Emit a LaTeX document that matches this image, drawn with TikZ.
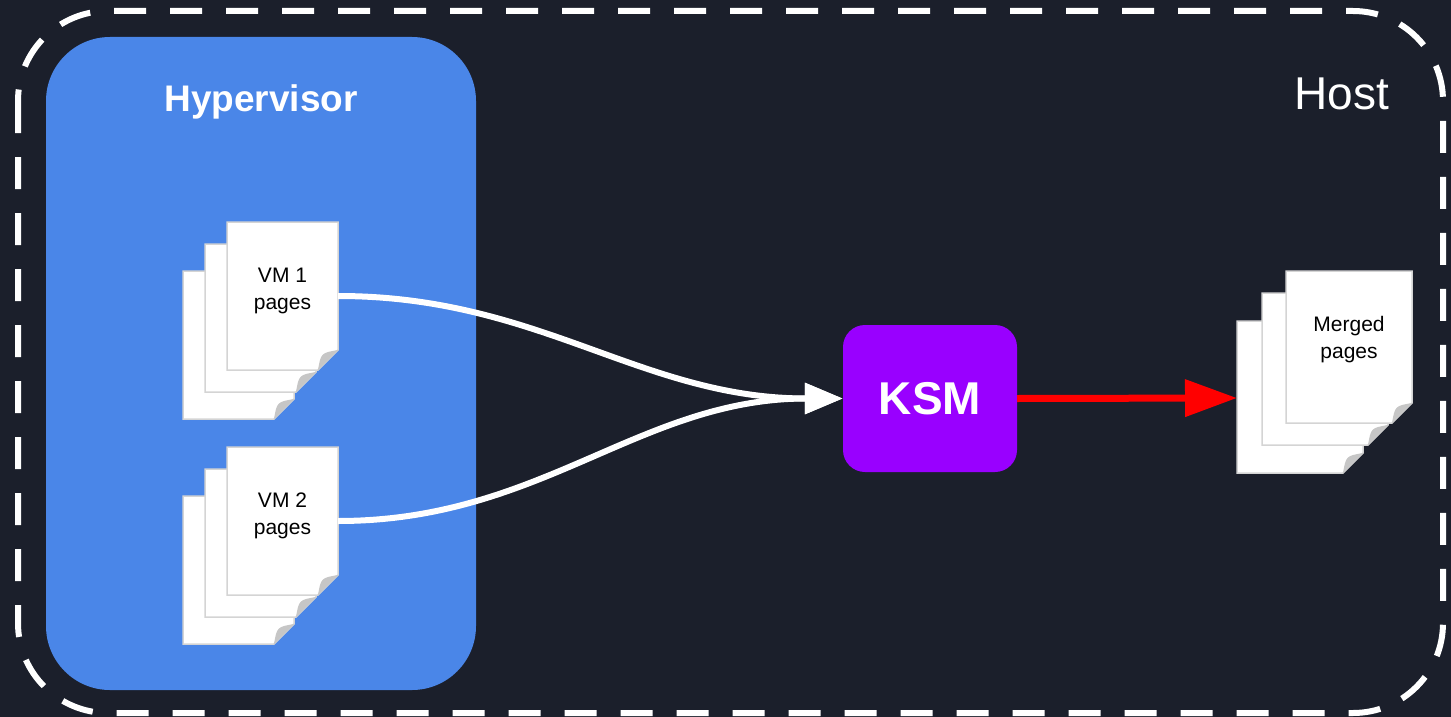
\documentclass[tikz,border=0pt]{standalone}
\usepackage{fontspec}
\setmainfont{Liberation Sans}
\usepackage{xcolor}
\usepackage{tikz}
\usetikzlibrary{arrows.meta}
\definecolor{bgdark}{HTML}{1B1F2B}
\definecolor{hyperblue}{HTML}{4A86E8}
\definecolor{ksmpurple}{HTML}{9900FF}
\definecolor{pageedge}{HTML}{D4D4D4}
\definecolor{pagefold}{HTML}{C6C6C6}
\tikzstyle{flow} = [white,line width=6pt,-{Triangle[length=38pt,width=30pt]}]
\tikzstyle{mergeflow} = [red,line width=7pt,-{Triangle[length=52pt,width=36pt]}]
\tikzstyle{pagelabel} = [align=center,font=\fontsize{21}{27}\selectfont]
\tikzstyle{pagebox} = [inner sep=0pt,minimum width=111pt,minimum height=148pt]
\tikzstyle{ksmbox} = [fill=ksmpurple,rounded corners=22pt,minimum width=174pt,minimum height=147pt,text=white,font=\bfseries\fontsize{46}{46}\selectfont]
% one sheet with a folded corner: x, y, width, height
\newcommand{\docsheet}[4]{%
  \filldraw[fill=white,draw=pageedge,line width=1.5pt] (#1,#2) -- ({#1+#3},#2) -- ({#1+#3},{#2+#4-20}) -- ({#1+#3-20},{#2+#4}) -- (#1,{#2+#4}) -- cycle;
  \fill[pagefold] ({#1+#3},{#2+#4-20}) .. controls ({#1+#3-17},{#2+#4-17}) .. ({#1+#3-20},{#2+#4}) -- cycle;
}

\begin{document}
\begin{tikzpicture}[x=1pt,y=-1pt]
    \useasboundingbox (0,0) rectangle (1451,717);
    \fill[bgdark] (0,0) rectangle (1451,717);

    % host frame
    \draw[white,line width=6pt,dash pattern=on 32pt off 24pt,rounded corners=90pt] (18,11) rectangle (1443,713);
    \node[white,font=\fontsize{46}{46}\selectfont] (host) at (1342,94) {Host};

    % hypervisor
    \fill[hyperblue,rounded corners=64pt] (46,37) rectangle (476,690);
    \node[white,font=\bfseries\fontsize{37}{37}\selectfont] (hyper) at (261,102) {Hypervisor};

    % page stacks
    \docsheet{183}{271}{111}{148}
    \docsheet{205}{244}{111}{148}
    \docsheet{227}{222}{111}{148}
    \node[pagebox] (vmone) at (282.5,296) {};
    \node[pagelabel] (vmonetext) at ([yshift=5pt]vmone.center) {VM 1\\pages};

    \docsheet{183}{496}{111}{148}
    \docsheet{205}{469}{111}{148}
    \docsheet{227}{447}{111}{148}
    \node[pagebox] (vmtwo) at (282.5,521) {};
    \node[pagelabel] (vmtwotext) at ([yshift=5pt]vmtwo.center) {VM 2\\pages};

    \docsheet{1237}{321}{126}{152}
    \docsheet{1262}{293}{126}{152}
    \docsheet{1286}{271}{126}{152}
    \node[pagebox,minimum width=126pt,minimum height=152pt] (merged) at (1349,347) {};
    \node[pagelabel] (mergedtext) at ([yshift=7pt]merged.center) {Merged\\pages};
    \coordinate (mergedin) at (1237,398);

    % ksm
    \node[ksmbox] (ksm) at (930,398.5) {KSM};

    \draw[flow] (vmone.east) to[out=0,in=180] (ksm.west);
    \draw[flow] (vmtwo.east) to[out=0,in=180] (ksm.west);
    \draw[mergeflow] (ksm.east) -- (mergedin);

\end{tikzpicture}
\end{document}
